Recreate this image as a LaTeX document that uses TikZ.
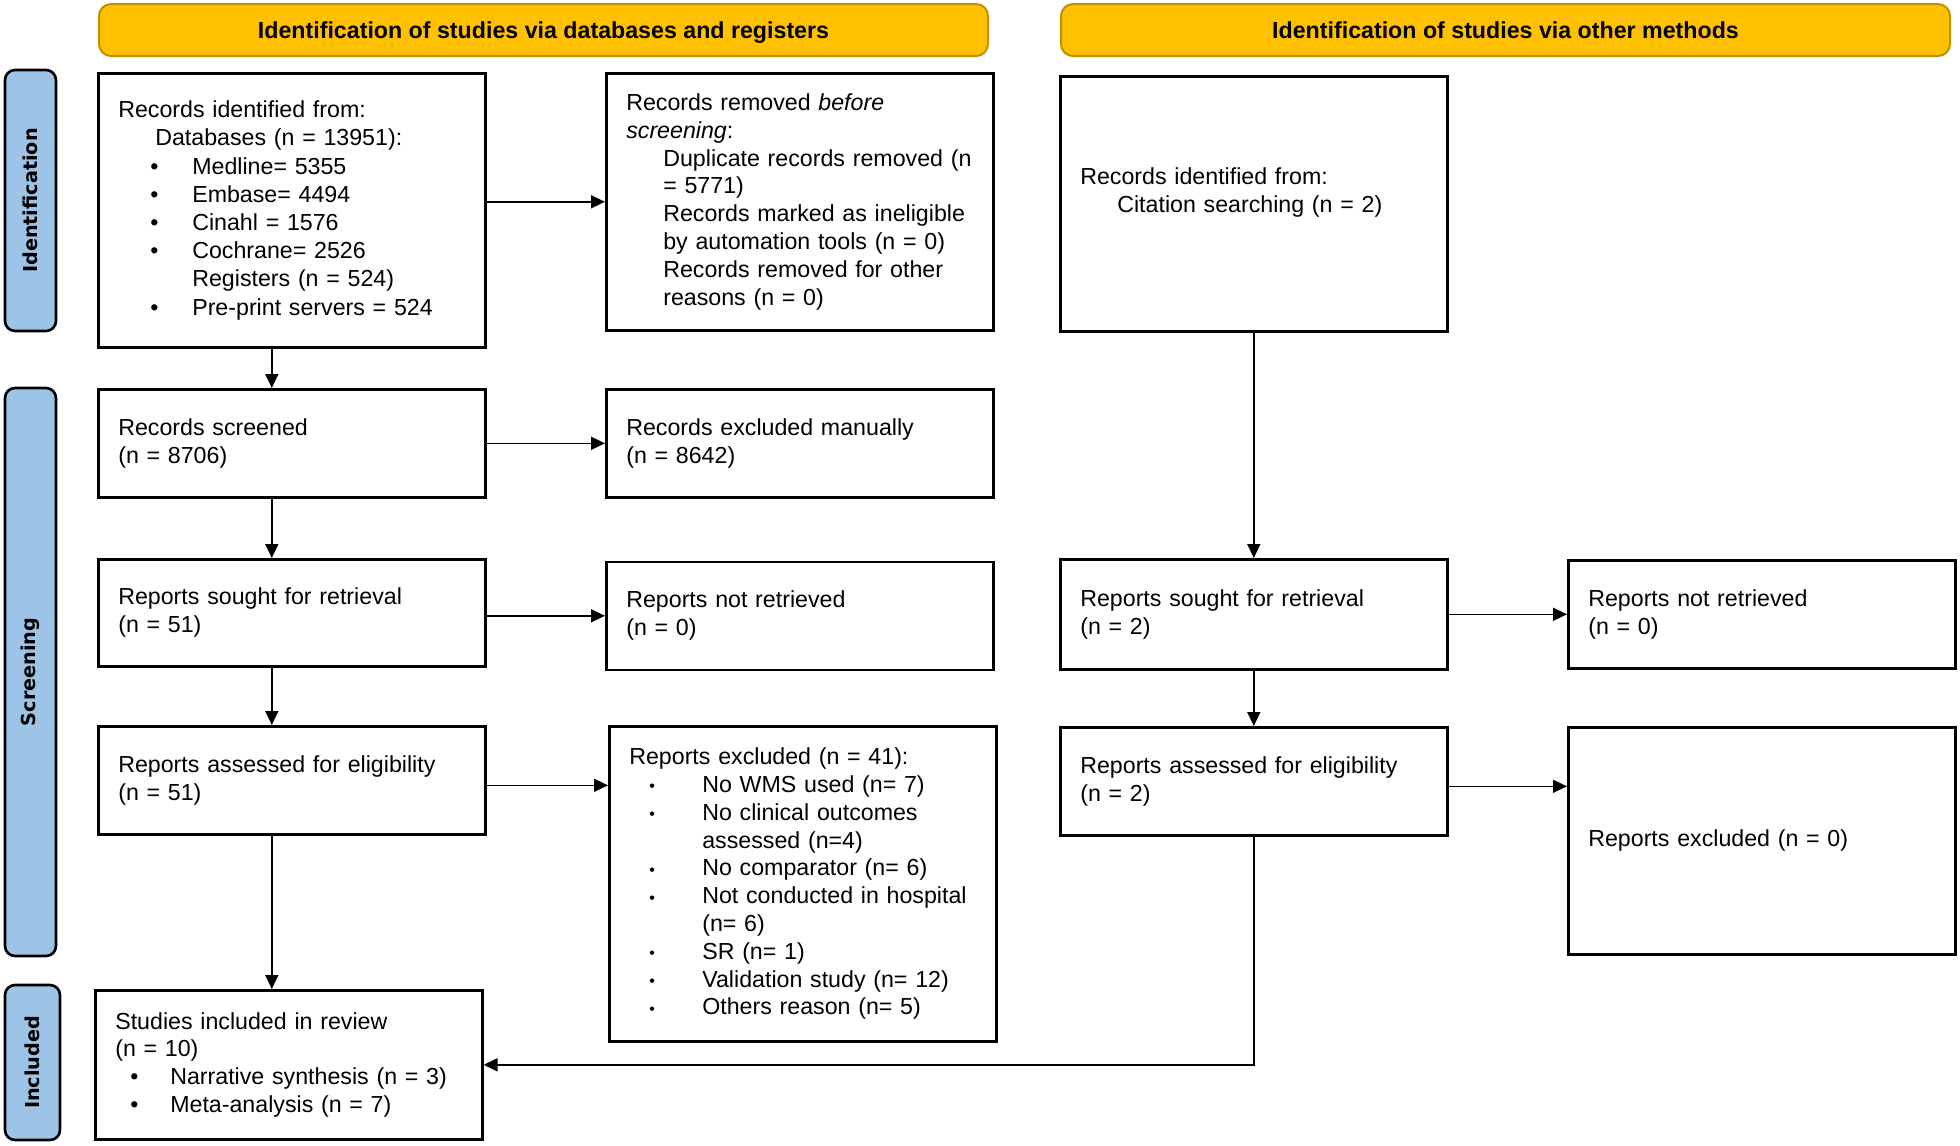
\documentclass[tikz,border=0pt]{standalone}
\usepackage{fontspec}
\setmainfont{Liberation Sans}
\newfontfamily\sidefont{DejaVu Sans}
\usetikzlibrary{positioning, arrows.meta}
\definecolor{prismagold}{RGB}{255, 192, 0}
\definecolor{prismagoldedge}{RGB}{191, 144, 0}
\definecolor{prismablue}{RGB}{157, 195, 230}
\newcommand{\bul}[3]{\hspace*{#1}\makebox[#2][l]{\textbullet}#3}
\newcommand{\sbul}[1]{\hspace*{10pt}\makebox[26.5pt][l]{\raisebox{0.3pt}{\footnotesize\textbullet}}#1}

\begin{document}
\begin{tikzpicture}[
      x=0.5pt, y=-0.5pt,
      font=\fontsize{11.6}{13.9}\selectfont,
      >={Triangle[length=7pt, width=6.5pt]},
      box/.style={rectangle, draw=black, line width=1.3pt, align=left,
                  text width=173.5pt, inner xsep=10pt, inner ysep=3pt},
      header/.style={rectangle, rounded corners=6pt, draw=prismagoldedge, line width=1pt,
                     fill=prismagold, minimum width=444.5pt, minimum height=26pt,
                     text height=10.8pt, text depth=2.5pt, inner ysep=1pt,
                     font=\fontsize{11.6}{13.9}\selectfont\bfseries},
      side/.style={rectangle, rounded corners=5pt, draw=black, line width=1.3pt,
                   fill=prismablue, rotate=90, minimum height=25.5pt,
                   font=\sidefont\fontsize{9.6}{11}\selectfont\bfseries},
      arrow/.style={->, line width=0.8pt}
  ]
  \useasboundingbox (0,0) rectangle (1960,1146);

  % banners
  \node[header] (hdb)    at (543.5,30)  {Identification of studies via databases and registers};
  \node[header] (hother) at (1505.5,30) {Identification of studies via other methods};

  % phase labels
  \node[side, minimum width=130.5pt] (sid)  at (30.5,200.5) {Identification};
  \node[side, minimum width=284pt]   (sscr) at (30.5,672)   {Screening};
  \node[side, minimum width=77.5pt, minimum height=27.5pt] (sinc) at (32.5,1062.5) {Included};

  % databases and registers
  \node[box, minimum height=137pt, anchor=north west,
        font=\fontsize{11.6}{14.1}\selectfont] (idrec) at (97,72)
        {Records identified from:\\
         \hspace*{18.5pt}Databases (n = 13951):\\
         \bul{16pt}{21pt}{Medline= 5355}\\
         \bul{16pt}{21pt}{Embase= 4494}\\
         \bul{16pt}{21pt}{Cinahl = 1576}\\
         \bul{16pt}{21pt}{Cochrane= 2526}\\
         \hspace*{37pt}Registers (n = 524)\\
         \bul{16pt}{21pt}{Pre-print servers = 524}};
  \node[box, minimum height=128.5pt, right=59.2pt of idrec.north east, anchor=north west] (removed)
        {Records removed \textit{before}\\
         \textit{screening}:\\
         \hspace*{18.5pt}Duplicate records removed (n\\
         \hspace*{18.5pt}= 5771)\\
         \hspace*{18.5pt}Records marked as ineligible\\
         \hspace*{18.5pt}by automation tools (n = 0)\\
         \hspace*{18.5pt}Records removed for other\\
         \hspace*{18.5pt}reasons (n = 0)};
  \node[box, minimum height=54pt, below=19.7pt of idrec]    (screened) {Records screened\\(n = 8706)};
  \node[box, minimum height=54pt, right=59.2pt of screened] (exclman)  {Records excluded manually\\(n = 8642)};
  \node[box, minimum height=53.5pt, below=29.7pt of screened] (sought) {Reports sought for retrieval\\(n = 51)};
  \node[box, minimum height=54pt, right=59.2pt of sought, yshift=-1.5pt] (notret) {Reports not retrieved\\(n = 0)};
  \node[box, minimum height=54pt, below=28.7pt of sought]   (assessed) {Reports assessed for eligibility\\(n = 51)};
  \node[box, minimum height=157.5pt, right=60.7pt of assessed.north east, anchor=north west] (excl)
        {Reports excluded (n = 41):\\
         \sbul{No WMS used (n= 7)}\\
         \sbul{No clinical outcomes}\\
         \hspace*{36.5pt}assessed (n=4)\\
         \sbul{No comparator (n= 6)}\\
         \sbul{Not conducted in hospital}\\
         \hspace*{36.5pt}(n= 6)\\
         \sbul{SR (n= 1)}\\
         \sbul{Validation study (n= 12)}\\
         \sbul{Others reason (n= 5)}};
  \node[box, minimum height=74.5pt, below=76.7pt of assessed, xshift=-1.5pt] (included)
        {Studies included in review\\
         (n = 10)\\
         \bul{7.5pt}{20pt}{Narrative synthesis (n = 3)}\\
         \bul{7.5pt}{20pt}{Meta-analysis (n = 7)}};

  % other methods
  \node[box, minimum height=127.5pt, anchor=north west] (cite) at (1059,75)
        {Records identified from:\\
         \hspace*{18.5pt}Citation searching (n = 2)\\ \mbox{}};
  \node[box, minimum height=55pt, below=112.7pt of cite]    (sought2)   {Reports sought for retrieval\\(n = 2)};
  \node[box, minimum height=54pt, below=27.7pt of sought2]  (assessed2) {Reports assessed for eligibility\\(n = 2)};
  \node[box, minimum height=54pt, right=59.2pt of sought2]  (notret2)   {Reports not retrieved\\(n = 0)};
  \node[box, minimum height=113.5pt, right=59.2pt of assessed2.north east, anchor=north west] (excl2)
        {Reports excluded (n = 0)};

  % connectors
  \draw[arrow] (idrec.east |- removed.west) -- (removed.west);
  \draw[arrow] ([xshift=-10pt]idrec.south) -- ([xshift=-10pt]idrec.south |- screened.north);
  \draw[arrow] (screened.east) -- (exclman.west);
  \draw[arrow] ([xshift=-10pt]screened.south) -- ([xshift=-10pt]screened.south |- sought.north);
  \draw[arrow] (sought.east |- notret.west) -- (notret.west);
  \draw[arrow] ([xshift=-10pt]sought.south) -- ([xshift=-10pt]sought.south |- assessed.north);
  \draw[arrow] ([yshift=-2.5pt]assessed.east) -- ([yshift=-2.5pt]assessed.east -| excl.west);
  \draw[arrow] ([xshift=-10pt]assessed.south) -- ([xshift=-10pt]assessed.south |- included.north);

  \draw[arrow] (cite.south) -- (sought2.north);
  \draw[arrow] (sought2.east) -- (notret2.west);
  \draw[arrow] (sought2.south) -- (assessed2.north);
  \draw[arrow] ([yshift=-2.5pt]assessed2.east) -- ([yshift=-2.5pt]assessed2.east -| excl2.west);
  \draw[arrow] (assessed2.south) |- (included.east);
\end{tikzpicture}
\end{document}
